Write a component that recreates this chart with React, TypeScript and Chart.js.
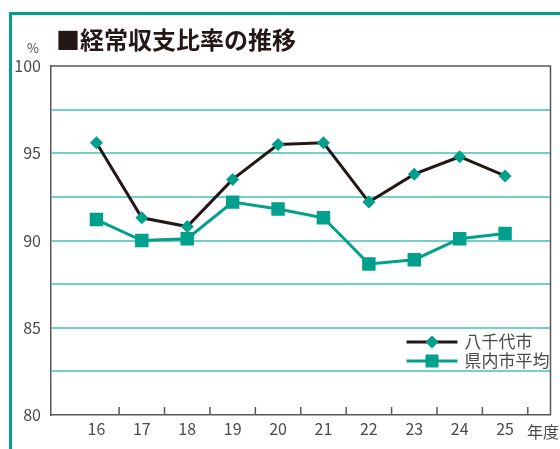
import React, { useEffect, useRef } from 'react';
import { Chart, registerables } from 'chart.js';

Chart.register(...registerables);

const years = [16, 17, 18, 19, 20, 21, 22, 23, 24, 25];
const yachiyo = [95.6, 91.3, 90.8, 93.5, 95.5, 95.6, 92.2, 93.8, 94.8, 93.7];
const prefAvg = [91.2, 90.0, 90.1, 92.2, 91.8, 91.3, 88.65, 88.9, 90.1, 90.4];
const yLabelValues = [80, 85, 90, 95, 100];
const seriesNames = ['八千代市', '県内市平均'];
const titleText = '■経常収支比率の推移';
const unitText = '%';
const xUnitText = '年度';

const FONT = '"Noto Sans CJK JP", "Noto Sans", sans-serif';
const TEAL = '#00a08c';
const DARK = '#231815';
const GRID = '#74d0c5';
const AXIS = '#595757';
const TEXT = '#4a4a4a';

const decorPlugin = {
  id: 'decor',
  beforeDatasetsDraw(chart: any) {
    const { ctx, chartArea } = chart;
    const xs = chart.scales.x;
    ctx.save();
    ctx.strokeStyle = AXIS;
    ctx.lineWidth = 1.5;
    ctx.beginPath();
    ctx.moveTo(chartArea.left, chartArea.top);
    ctx.lineTo(chartArea.right, chartArea.top);
    ctx.lineTo(chartArea.right, chartArea.bottom);
    ctx.stroke();
    // inward tick marks between categories
    years.forEach((yr) => {
      const px = xs.getPixelForValue(yr + 0.5);
      ctx.beginPath();
      ctx.moveTo(px, chartArea.bottom);
      ctx.lineTo(px, chartArea.bottom - 8);
      ctx.stroke();
    });
    ctx.restore();
  },
  afterDraw(chart: any) {
    const { ctx, chartArea } = chart;
    ctx.save();
    const x0 = chartArea.right - 144;
    const x1 = chartArea.right - 93;
    const rows = [chartArea.bottom - 73, chartArea.bottom - 54];
    chart.data.datasets.forEach((ds: any, i: number) => {
      const y = rows[i];
      ctx.strokeStyle = ds.borderColor;
      ctx.lineWidth = 3;
      ctx.beginPath();
      ctx.moveTo(x0, y);
      ctx.lineTo(x1, y);
      ctx.stroke();
      const cx = (x0 + x1) / 2;
      ctx.fillStyle = ds.pointBackgroundColor;
      ctx.beginPath();
      if (ds.pointStyle === 'rectRot') {
        const r = 6.5;
        ctx.moveTo(cx, y - r);
        ctx.lineTo(cx + r, y);
        ctx.lineTo(cx, y + r);
        ctx.lineTo(cx - r, y);
        ctx.closePath();
      } else {
        ctx.rect(cx - 6.5, y - 6.5, 13, 13);
      }
      ctx.fill();
      ctx.fillStyle = TEXT;
      ctx.font = `17px ${FONT}`;
      ctx.textBaseline = 'middle';
      ctx.textAlign = 'left';
      ctx.fillText(ds.label, x1 + 7, y);
    });
    ctx.restore();
  },
};

export default function App() {
  const ref = useRef<HTMLCanvasElement>(null);

  useEffect(() => {
    document.body.style.margin = '0';
    const chart = new Chart(ref.current as HTMLCanvasElement, {
      type: 'line',
      data: {
        datasets: [
          {
            label: seriesNames[0],
            data: years.map((x, i) => ({ x, y: yachiyo[i] })),
            borderColor: DARK,
            borderWidth: 3,
            pointStyle: 'rectRot',
            pointRadius: 6.5,
            pointBackgroundColor: TEAL,
            pointBorderColor: TEAL,
            pointBorderWidth: 0,
            tension: 0,
          },
          {
            label: seriesNames[1],
            data: years.map((x, i) => ({ x, y: prefAvg[i] })),
            borderColor: TEAL,
            borderWidth: 3,
            pointStyle: 'rect',
            pointRadius: 9.5,
            pointBackgroundColor: TEAL,
            pointBorderColor: TEAL,
            pointBorderWidth: 0,
            tension: 0,
          },
        ],
      },
      options: {
        responsive: false,
        animation: false,
        layout: { padding: { left: 0, top: 66, right: 7, bottom: 0 } },
        plugins: {
          legend: { display: false },
          tooltip: { enabled: false },
          title: { display: false },
        },
        scales: {
          x: {
            type: 'linear',
            min: 15,
            max: 26,
            afterFit: (s: any) => { s.height = 34; },
            ticks: {
              stepSize: 1,
              autoSkip: false,
              maxRotation: 0,
              padding: 4,
              color: TEXT,
              font: { family: FONT, size: 16 },
              callback: (v: any) => (years.includes(Number(v)) ? String(v) : ''),
            },
            grid: { display: false, drawTicks: false },
            border: { display: true, color: AXIS, width: 1.5 },
          },
          y: {
            min: 80,
            max: 100,
            afterFit: (s: any) => { s.width = 51; },
            ticks: {
              stepSize: 2.5,
              padding: 10,
              color: TEXT,
              font: { family: FONT, size: 16 },
              callback: (v: any) => (yLabelValues.includes(Number(v)) ? String(v) : ''),
            },
            grid: {
              drawTicks: false,
              lineWidth: 2,
              color: (c: any) => (c.tick && (c.tick.value === 80 || c.tick.value === 100) ? 'rgba(0,0,0,0)' : GRID),
            },
            border: { display: true, color: AXIS, width: 1.5 },
          },
        },
      },
      plugins: [decorPlugin],
    } as any);
    return () => chart.destroy();
  }, []);

  return (
    <div style={{ position: 'fixed', left: 0, top: 0, width: 560, height: 449, background: '#fff', overflow: 'hidden', fontFamily: FONT }}>
      <div style={{ position: 'absolute', left: 9, top: 12, width: 551, height: 3, background: TEAL }} />
      <div style={{ position: 'absolute', left: 9, top: 12, width: 3, height: 437, background: TEAL }} />
      <canvas ref={ref} width={560} height={449} style={{ position: 'absolute', left: 0, top: 0 }} />
      <div style={{ position: 'absolute', left: 56, top: 22, fontSize: 24, fontWeight: 700, color: DARK, lineHeight: '34px', whiteSpace: 'nowrap' }}>{titleText}</div>
      <div style={{ position: 'absolute', left: 27, top: 40, fontSize: 13, color: TEXT, lineHeight: '16px' }}>{unitText}</div>
      <div style={{ position: 'absolute', left: 527, top: 420, fontSize: 16, color: TEXT, lineHeight: '22px' }}>{xUnitText}</div>
    </div>
  );
}
